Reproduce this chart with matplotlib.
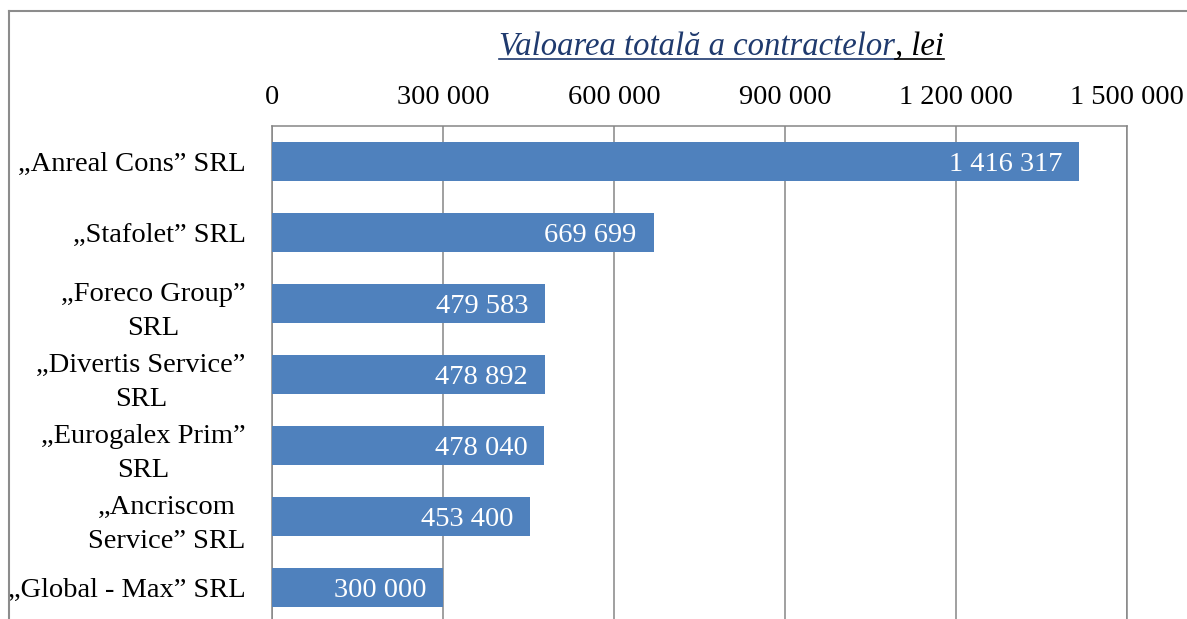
import matplotlib
matplotlib.use("Agg")
import matplotlib.pyplot as plt
from matplotlib.lines import Line2D

# data
firme = ["„Anreal Cons” SRL", "„Stafolet” SRL", "„Foreco Group”\nSRL",
         "„Divertis Service”\nSRL", "„Eurogalex Prim”\nSRL",
         "„Ancriscom\nService” SRL", "„Global - Max” SRL"]
valori = [1416317, 669699, 479583, 478892, 478040, 453400, 300000]
ticks = [0, 300000, 600000, 900000, 1200000, 1500000]
titlu = "Valoarea totală a contractelor"
unitate = ", lei"


def lei(v):
    return f"{v:,}".replace(",", " ")


plt.rcParams['font.family'] = ['Liberation Serif', 'DejaVu Serif']
fs = 20.5
gri = '#868686'

W, H = 1187, 619
fig = plt.figure(figsize=(W / 100, H / 100), dpi=100)

# plot area in pixels; bottom runs past the picture, like the cropped original
x0, x1, y0, y1 = 272, 1127, 126, 623
ax = fig.add_axes([x0 / W, 1 - y1 / H, (x1 - x0) / W, (y1 - y0) / H])

pos = list(range(len(firme)))
ax.barh(pos, valori, height=0.56, color='#4F81BD', zorder=3)
ax.set_xlim(0, 1500000)
ax.set_ylim(len(firme) - 0.5, -0.5)

ax.set_xticks(ticks)
ax.set_xticklabels([lei(t) for t in ticks], fontsize=fs)
ax.xaxis.tick_top()
ax.set_yticks(pos)
ax.set_yticklabels(firme, fontsize=fs)
for lab in ax.get_yticklabels():
    lab.set_multialignment('center')
    lab.set_linespacing(1.5)
ax.tick_params(axis='x', length=0, pad=11.5)
ax.tick_params(axis='y', length=0, pad=19)

ax.grid(axis='x', color=gri, lw=1.1, zorder=0)
for s in ax.spines.values():
    s.set_color(gri)
    s.set_linewidth(1.1)

for i, v in enumerate(valori):
    ax.annotate(lei(v), (v, i), xytext=(-17, 0), textcoords='offset pixels',
                ha='right', va='center_baseline', color='white', fontsize=fs, zorder=4)

# outer chart frame (only left and top edges are inside the crop)
fy = 1 - 11 / H
fx = 9 / W
fig.add_artist(Line2D([fx, fx], [0, fy], color='#8C8C8C', lw=1.5))
fig.add_artist(Line2D([fx, 1], [fy, fy], color='#8C8C8C', lw=1.5))

# title: blue part + black ", lei", both underlined
tx, ty = 499, 55
tfs = 23.5
t1 = fig.text(tx / W, 1 - ty / H, titlu, color='#1F3A6E', style='italic',
              fontsize=tfs, ha='left', va='baseline')
fig.canvas.draw()
r = fig.canvas.get_renderer()
b1 = t1.get_window_extent(r)
t2 = fig.text(b1.x1 / W, 1 - ty / H, unitate, color='black', style='italic',
              fontsize=tfs, ha='left', va='baseline')
b2 = t2.get_window_extent(r)
uy = 1 - 59 / H
fig.add_artist(Line2D([b1.x0 / W, b1.x1 / W], [uy, uy], color='#1F3A6E', lw=1.2))
fig.add_artist(Line2D([b1.x1 / W, b2.x1 / W], [uy, uy], color='black', lw=1.2))

fig.savefig("out.png", dpi=100)
